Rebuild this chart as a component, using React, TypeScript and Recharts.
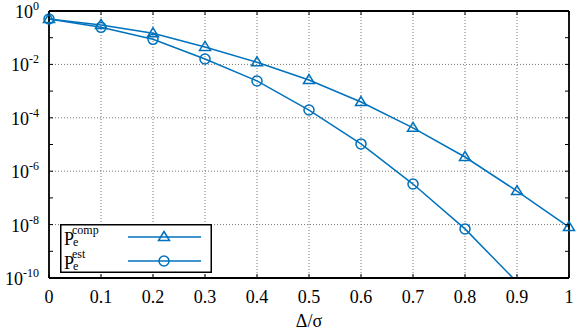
import React from 'react';
import {
  LineChart,
  Line,
  XAxis,
  YAxis,
  CartesianGrid,
  Legend,
} from 'recharts';

// Δ/σ values
const deltaOverSigma = [0, 0.1, 0.2, 0.3, 0.4, 0.5, 0.6, 0.7, 0.8, 0.9, 1];
// P_e^comp (triangles)
const peComp = [0.5, 0.3, 0.146, 0.045, 0.012, 2.6e-3, 3.9e-4, 4.2e-5, 3.4e-6, 1.8e-7, 8.1e-9];
// P_e^est (circles)
const peEst = [0.5, 0.245, 0.087, 0.016, 2.4e-3, 1.95e-4, 1.05e-5, 3.3e-7, 6.9e-9, 7e-11, 5e-13];

const xTicks = [0, 0.1, 0.2, 0.3, 0.4, 0.5, 0.6, 0.7, 0.8, 0.9, 1];
const yTicks = [1e-10, 1e-9, 1e-8, 1e-7, 1e-6, 1e-5, 1e-4, 1e-3, 1e-2, 1e-1, 1];
const yGridValues = [1e-10, 1e-8, 1e-6, 1e-4, 1e-2, 1];
const Y_MIN = 1e-10;

const BLUE = '#0072BD';
const FONT = 'Liberation Serif';

const data = deltaOverSigma.map((x, i) => ({ x, comp: peComp[i], est: peEst[i] }));

const triangle = (cx: number, cy: number) => (
  <path
    d={`M${cx},${cy - 5.5} L${cx + 5.5},${cy + 3.5} L${cx - 5.5},${cy + 3.5} Z`}
    fill="none"
    stroke={BLUE}
    strokeWidth={1.5}
  />
);

const circle = (cx: number, cy: number) => (
  <circle cx={cx} cy={cy} r={5} fill="none" stroke={BLUE} strokeWidth={1.5} />
);

const renderTriangleDot = (props: any) => {
  const { cx, cy, index } = props;
  return <g key={`tri-${index}`}>{triangle(cx, cy)}</g>;
};

const renderCircleDot = (props: any) => {
  const { cx, cy, index, value } = props;
  // markers below the axis range are not drawn
  const v = Array.isArray(value) ? value[1] : value;
  if (v < Y_MIN) return <g key={`cir-${index}`} />;
  return <g key={`cir-${index}`}>{circle(cx, cy)}</g>;
};

// bottom axis: inward tick + label
const BottomTick = (props: any) => {
  const { x, y, payload } = props;
  return (
    <g>
      <line x1={x} y1={y} x2={x} y2={y - 4} stroke="#000" strokeWidth={1} />
      <text x={x} y={y + 25} textAnchor="middle" style={{ fontFamily: FONT }} fontSize={18} fill="#000">
        {String(payload.value)}
      </text>
    </g>
  );
};

// top axis: inward tick only
const TopTick = (props: any) => {
  const { x, y } = props;
  return <line x1={x} y1={y} x2={x} y2={y + 4} stroke="#000" strokeWidth={1} />;
};

// left axis: inward tick, label 10^n for even decades
const LeftTick = (props: any) => {
  const { x, y, payload } = props;
  const exp = Math.round(Math.log10(payload.value));
  return (
    <g>
      <line x1={x} y1={y} x2={x + 4} y2={y} stroke="#000" strokeWidth={1} />
      {exp % 2 === 0 && (
        <text x={x - 10} y={y} textAnchor="end" style={{ fontFamily: FONT }} fontSize={18} fill="#000">
          <tspan dy={7}>10</tspan>
          <tspan dy={-8} fontSize={12}>{exp}</tspan>
        </text>
      )}
    </g>
  );
};

// right axis: inward tick only
const RightTick = (props: any) => {
  const { x, y } = props;
  return <line x1={x} y1={y} x2={x - 4} y2={y} stroke="#000" strokeWidth={1} />;
};

const legendRows = [
  { key: 'comp', sup: 'comp', marker: triangle },
  { key: 'est', sup: 'est', marker: circle },
];

const LegendBox = () => (
  <svg width={152} height={49} style={{ display: 'block' }}>
    <rect x={0.75} y={0.75} width={150.5} height={47.5} fill="#fff" stroke="#000" strokeWidth={1.5} />
    {legendRows.map((row, i) => {
      const base = 21 + i * 24;
      const ly = 13 + i * 24;
      return (
        <g key={row.key} style={{ fontFamily: FONT }}>
          <text x={4} y={base} fontSize={18} fill="#000">P</text>
          <text x={13} y={base + 1} fontSize={12} fill="#000">e</text>
          <text x={12} y={base - 11} fontSize={12} fill="#000">{row.sup}</text>
          <line x1={68} y1={ly} x2={141} y2={ly} stroke={BLUE} strokeWidth={1.5} />
          {row.marker(104, ly)}
        </g>
      );
    })}
  </svg>
);

export default function App() {
  return (
    <div style={{ position: 'absolute', left: 0, top: 0 }}>
      <LineChart width={576} height={332} data={data} margin={{ top: 0, right: 0, bottom: 0, left: 0 }}>
        <CartesianGrid
          stroke="#777"
          strokeDasharray="1 2"
          horizontalValues={yGridValues}
          verticalValues={xTicks}
        />
        <XAxis
          dataKey="x"
          type="number"
          domain={[0, 1]}
          ticks={xTicks}
          height={54}
          tickSize={0}
          tickMargin={0}
          tickLine={false}
          tick={<BottomTick />}
          axisLine={{ stroke: '#000', strokeWidth: 1.8 }}
          interval={0}
          label={{ value: 'Δ/σ', position: 'insideBottom', offset: 5, fill: '#000', fontSize: 18, style: { fontFamily: FONT } }}
        />
        <XAxis
          xAxisId="top"
          orientation="top"
          dataKey="x"
          type="number"
          domain={[0, 1]}
          ticks={xTicks}
          height={11}
          tickSize={0}
          tickMargin={0}
          tickLine={false}
          tick={<TopTick />}
          axisLine={{ stroke: '#000', strokeWidth: 1.8 }}
          interval={0}
        />
        <YAxis
          scale="log"
          domain={[1e-10, 1]}
          allowDataOverflow
          ticks={yTicks}
          width={49}
          tickSize={0}
          tickMargin={0}
          tickLine={false}
          tick={<LeftTick />}
          axisLine={{ stroke: '#000', strokeWidth: 1.8 }}
          interval={0}
        />
        <YAxis
          yAxisId="right"
          orientation="right"
          scale="log"
          domain={[1e-10, 1]}
          allowDataOverflow
          ticks={yTicks}
          width={7}
          tickSize={0}
          tickMargin={0}
          tickLine={false}
          tick={<RightTick />}
          axisLine={{ stroke: '#000', strokeWidth: 1.8 }}
          interval={0}
        />
        <Line
          type="linear"
          dataKey="comp"
          stroke={BLUE}
          strokeWidth={1.5}
          dot={renderTriangleDot}
          activeDot={false}
          isAnimationActive={false}
        />
        <Line
          type="linear"
          dataKey="est"
          stroke={BLUE}
          strokeWidth={1.5}
          dot={renderCircleDot}
          activeDot={false}
          isAnimationActive={false}
        />
        <Legend
          layout="vertical"
          align="center"
          verticalAlign="middle"
          content={() => <LegendBox />}
          wrapperStyle={{ left: 60, top: 224, width: 152, height: 49 }}
        />
      </LineChart>
    </div>
  );
}
